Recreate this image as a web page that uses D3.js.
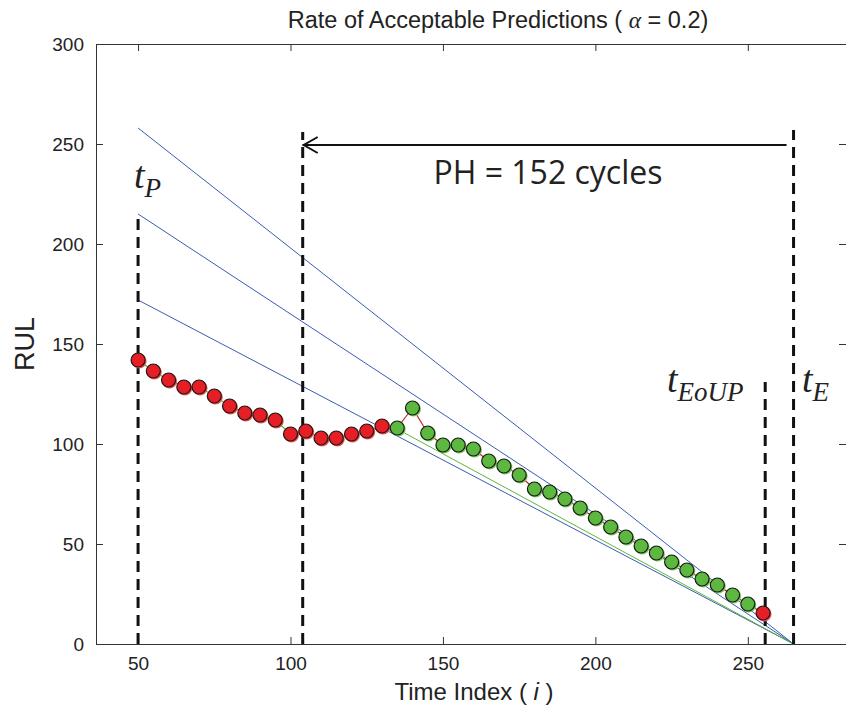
<!DOCTYPE html>
<html>
<head>
<meta charset="utf-8">
<script src="https://cdn.jsdelivr.net/npm/d3@7"></script>
<style>
  body { margin: 0; background: #fff; }
  svg { display: block; }
  .tick text { font-family: "Liberation Sans", Arial, sans-serif; font-size: 19px; fill: #222; }
  .ax path, .ax line { stroke: #333; }
</style>
</head>
<body>
<svg id="chart"></svg>
<script>
// datos
const timeIdx = [50, 55, 60, 65, 70, 75, 80, 85, 90, 95, 100, 105, 110, 115, 120, 125, 130,
  135, 140, 145, 150, 155, 160, 165, 170, 175, 180, 185, 190, 195, 200, 205, 210, 215, 220,
  225, 230, 235, 240, 245, 250, 255];
const rulPred = [142, 136.5, 132, 128.5, 128.5, 124, 119, 115.5, 114.5, 112, 105, 106.5, 103, 103,
  105, 106.5, 109, 108, 118, 105.5, 99.5, 99.5, 97.5, 91.5, 89, 84.5, 77.5, 76, 72.5, 68, 63,
  58.5, 53.5, 49, 45.5, 41, 37, 32.5, 29.5, 24.5, 20, 15.5];
const accepted = [0, 0, 0, 0, 0, 0, 0, 0, 0, 0, 0, 0, 0, 0, 0, 0, 0,
  1, 1, 1, 1, 1, 1, 1, 1, 1, 1, 1, 1, 1, 1, 1, 1, 1, 1, 1, 1, 1, 1, 1, 1, 0];
const xTicks = [50, 100, 150, 200, 250];
const yTicks = [0, 50, 100, 150, 200, 250, 300];
const tP = 50, tE = 265, tLambda = 104, tEoUP = 255.7;
const alpha = 0.2;
const coneFactors = [1 + alpha, 1, 1 - alpha];
const greenLine = [[135, 107.5], [265, 0]];

const width = 846, height = 715;
const m = { left: 96, right: 846, top: 44, bottom: 644 };

const svg = d3.select('#chart').attr('width', width).attr('height', height);

const x = d3.scaleLinear().domain([36.2, 282.2]).range([m.left, m.right]);
const y = d3.scaleLinear().domain([0, 300]).range([m.bottom, m.top]);

// ejes con ticks hacia dentro
svg.append('g').attr('class', 'ax')
  .attr('transform', `translate(0,${m.bottom})`)
  .call(d3.axisBottom(x).tickValues(xTicks).tickSizeInner(-7).tickSizeOuter(0).tickPadding(13))
  .call(g => g.selectAll('text').attr('dy', '0.71em'));
svg.append('g').attr('class', 'ax')
  .attr('transform', `translate(0,${m.top})`)
  .call(d3.axisTop(x).tickValues(xTicks).tickSizeInner(-7).tickSizeOuter(0).tickFormat(''));
svg.append('g').attr('class', 'ax')
  .attr('transform', `translate(${m.left},0)`)
  .call(d3.axisLeft(y).tickValues(yTicks).tickSizeInner(-7).tickSizeOuter(0).tickPadding(12));
svg.append('g').attr('class', 'ax')
  .attr('transform', `translate(${m.right},0)`)
  .call(d3.axisRight(y).tickValues(yTicks).tickSizeInner(-7).tickSizeOuter(0).tickFormat(''));

const plot = svg.append('g');

// conos alfa
coneFactors.forEach(f => {
  plot.append('line')
    .attr('x1', x(tP)).attr('y1', y(f * (tE - tP)))
    .attr('x2', x(tE)).attr('y2', y(0))
    .attr('stroke', '#3a5cb0').attr('stroke-width', 1);
});
plot.append('line')
  .attr('x1', x(greenLine[0][0])).attr('y1', y(greenLine[0][1]))
  .attr('x2', x(greenLine[1][0])).attr('y2', y(greenLine[1][1]))
  .attr('stroke', '#5cb83a').attr('stroke-width', 1);

// lineas verticales discontinuas
const vlines = [[tP, tE - tP], [tLambda, 256], [tE, 257], [tEoUP, 131]];
vlines.forEach(([t, top]) => {
  plot.append('line')
    .attr('x1', x(t)).attr('x2', x(t))
    .attr('y1', y(0)).attr('y2', y(top))
    .attr('stroke', '#111').attr('stroke-width', 3)
    .attr('stroke-dasharray', '11,7');
});

// segmentos entre puntos
for (let i = 0; i < timeIdx.length - 1; i++) {
  plot.append('line')
    .attr('x1', x(timeIdx[i])).attr('y1', y(rulPred[i]))
    .attr('x2', x(timeIdx[i + 1])).attr('y2', y(rulPred[i + 1]))
    .attr('stroke', accepted[i] ? '#c8202a' : '#5cb83a').attr('stroke-width', 1.2);
}

// puntos
const pts = plot.append('g').selectAll('g')
  .data(timeIdx.map((t, i) => ({ t, v: rulPred[i], ok: accepted[i] })))
  .enter().append('g')
  .attr('transform', d => `translate(${x(d.t)},${y(d.v)})`);
pts.append('circle')
  .attr('cx', 1).attr('cy', 1).attr('r', 7.5)
  .attr('fill', d => d.ok ? '#7cc860' : '#f05050');
pts.append('circle')
  .attr('r', 7)
  .attr('fill', d => d.ok ? '#5db840' : '#e61e25')
  .attr('stroke', '#1a1a1a').attr('stroke-width', 1.2);

// flecha PH
const arrowY = y(249.5);
svg.append('line')
  .attr('x1', x(tLambda)).attr('y1', arrowY)
  .attr('x2', x(tE) - 7).attr('y2', arrowY)
  .attr('stroke', '#111').attr('stroke-width', 2);
svg.append('path')
  .attr('d', `M${x(tLambda) + 15},${arrowY - 8} L${x(tLambda) + 1},${arrowY} L${x(tLambda) + 15},${arrowY + 8}`)
  .attr('fill', 'none').attr('stroke', '#111').attr('stroke-width', 2);
svg.append('text')
  .attr('x', 548).attr('y', 184)
  .attr('text-anchor', 'middle')
  .style('font-family', '"Open Sans", "Noto Sans", sans-serif')
  .style('font-size', '32px').attr('fill', '#222')
  .text('PH = 152 cycles');

// etiquetas t
function tLabel(px, py, sub) {
  const t = svg.append('text').attr('x', px).attr('y', py)
    .style('font-family', '"Liberation Serif", "Times New Roman", serif')
    .style('font-style', 'italic').attr('fill', '#222');
  t.append('tspan').style('font-size', '38px').text('t');
  t.append('tspan').attr('dy', 9).style('font-size', '27px').text(sub);
}
tLabel(134, 188, 'P');
tLabel(667, 392, 'EoUP');
tLabel(802, 392, 'E');

// titulo y etiquetas de ejes
const title = svg.append('text')
  .attr('x', 498).attr('y', 28).attr('text-anchor', 'middle')
  .style('font-family', '"Liberation Sans", Arial, sans-serif')
  .style('font-size', '23.5px').attr('fill', '#222');
title.append('tspan').text('Rate of Acceptable Predictions ( ');
title.append('tspan').style('font-family', '"Liberation Serif", serif').style('font-style', 'italic').text('α');
title.append('tspan').text(' = 0.2)');

const xl = svg.append('text')
  .attr('x', 474).attr('y', 700).attr('text-anchor', 'middle')
  .style('font-family', '"Liberation Sans", Arial, sans-serif')
  .style('font-size', '24px').attr('fill', '#222');
xl.append('tspan').text('Time Index ( ');
xl.append('tspan').style('font-style', 'italic').text('i');
xl.append('tspan').text(' )');

svg.append('text')
  .attr('transform', `translate(34,${(m.top + m.bottom) / 2}) rotate(-90)`)
  .attr('text-anchor', 'middle')
  .style('font-family', '"Liberation Sans", Arial, sans-serif')
  .style('font-size', '27px').attr('fill', '#222')
  .text('RUL');
</script>
</body>
</html>
